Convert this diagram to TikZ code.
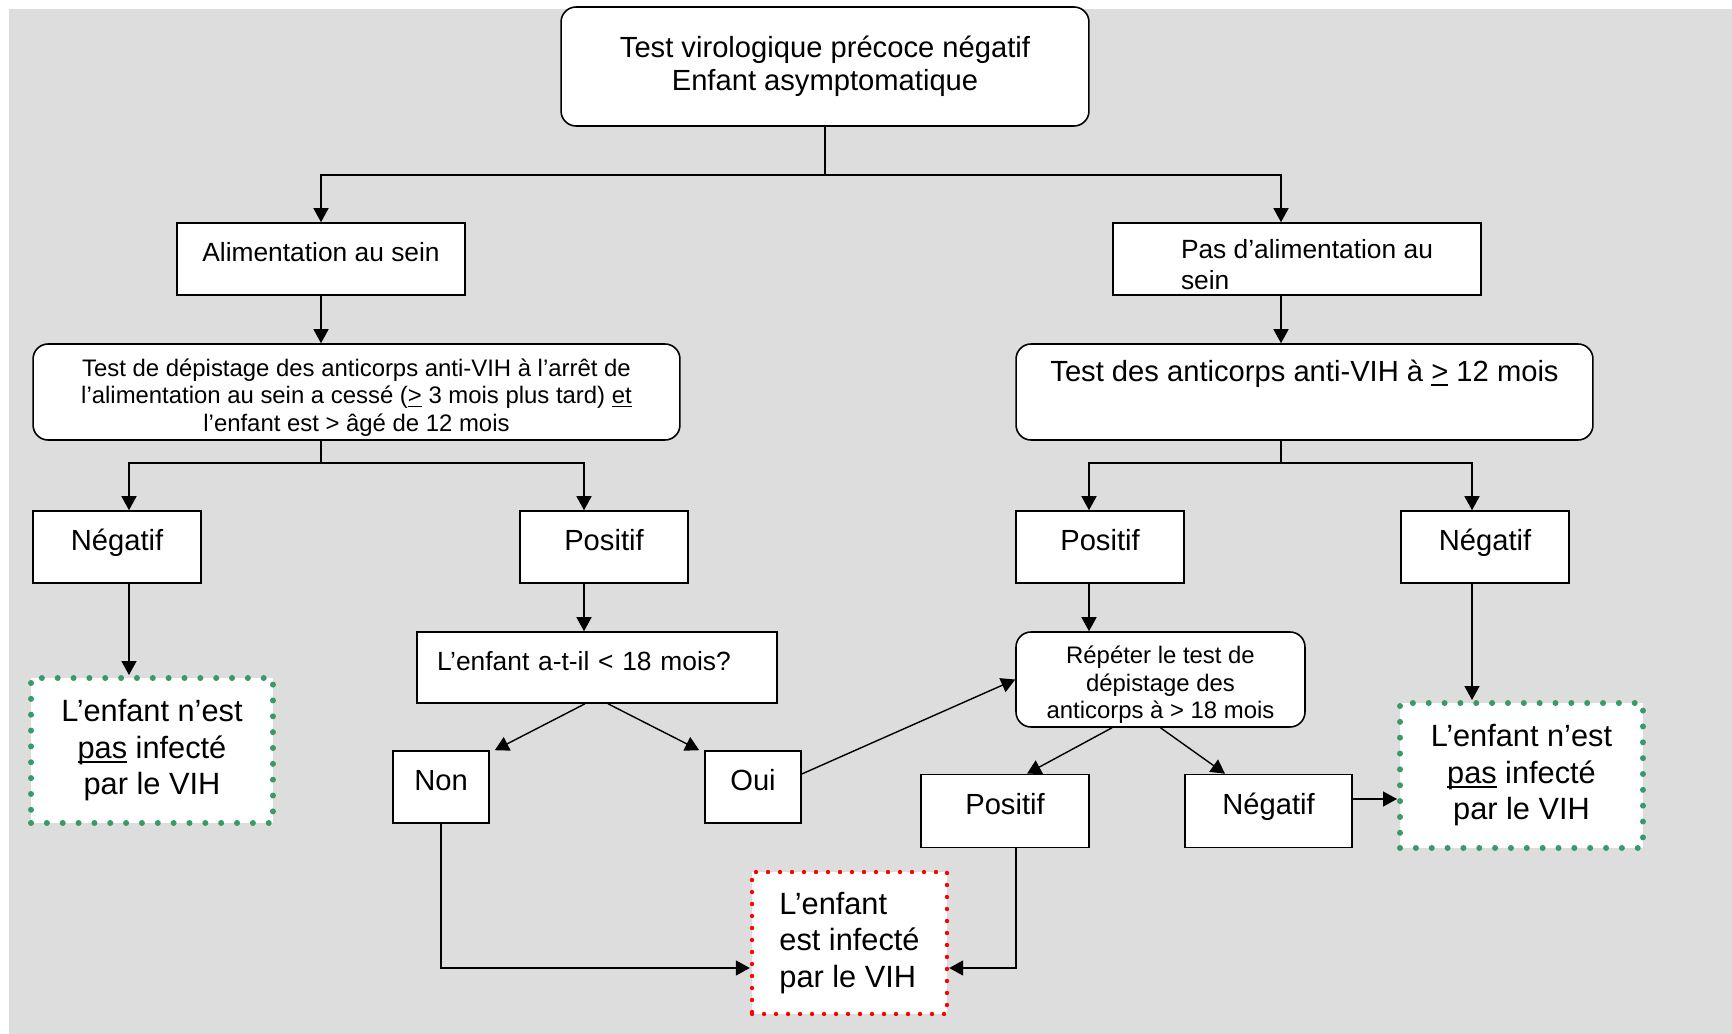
\documentclass[tikz,border=0pt]{standalone}
\usepackage{fontspec}
\setmainfont{Liberation Sans}
\usepackage{xcolor}
\usetikzlibrary{arrows.meta}

\definecolor{fondgris}{RGB}{221,221,221}
\definecolor{vertok}{RGB}{56,154,104}
\newcommand{\tailleA}{\fontsize{16.6}{19}\selectfont}
\newcommand{\tailleB}{\fontsize{15}{17.5}\selectfont}
\newcommand{\tailleC}{\fontsize{13.6}{15.7}\selectfont}
\newcommand{\tailleD}{\fontsize{17.5}{20.8}\selectfont}
% soulignement proche de la ligne de base
\newcommand{\souligne}[1]{\begingroup\setbox0\hbox{#1}\rlap{\rule[-0.15em]{\wd0}{0.06em}}\box0\endgroup}

\tikzset{
  boite/.style={draw, fill=white, line width=0.9pt, inner sep=0pt},
  boiteronde/.style={boite, rounded corners=0.3cm},
  etiquette/.style={boite, font=\tailleA, text height=12pt, text depth=8pt},
  nonInfecte/.style={fill=white, draw=vertok, line width=0.12cm, line cap=round,
    dash pattern=on 0pt off 0.317cm, font=\tailleD, align=center},
  infecte/.style={fill=white, draw=red, line width=0.087cm, line cap=round,
    dash pattern=on 0pt off 0.24cm, font=\tailleD, align=left},
  fleche/.style={line width=0.8pt, -{Triangle[length=0.28cm,width=0.3cm]}},
  trait/.style={line width=0.8pt}
}

\begin{document}
\begin{tikzpicture}[x=0.02cm, y=-0.02cm]
\useasboundingbox (0,0) rectangle (1732,1034);
\fill[fondgris] (9,9) rectangle (1732,1034);

% boites du haut
\node[boiteronde, minimum width=10.56cm, minimum height=2.38cm, font=\tailleA, align=center] (depart) at (825,66.5)
  {Test virologique précoce négatif\\Enfant asymptomatique};
\node[boite, minimum width=5.76cm, minimum height=1.44cm, font=\tailleB, text height=11pt, text depth=8pt] (allait) at (321,259)
  {Alimentation au sein};
\node[boite, minimum width=7.36cm, minimum height=1.44cm,
  label={[font=\tailleB, align=left, xshift=0.2cm, yshift=-0.11cm]center:Pas d’alimentation au\\sein}] (pasallait) at (1297,259) {};

% tests anticorps
\node[boiteronde, minimum width=12.94cm, minimum height=1.92cm,
  label={[font=\tailleC, align=center, yshift=-0.11cm]center:Test de dépistage des anticorps anti-VIH à l’arrêt de\\
   l’alimentation au sein a cessé (\souligne{>} 3 mois plus tard) \souligne{et}\\
   l’enfant est > âgé de 12 mois}] (testG) at (356.5,392) {};
\node[boiteronde, minimum width=11.54cm, minimum height=1.92cm, font=\tailleA, text height=12pt, text depth=24pt] (testD) at (1304.5,392)
  {Test des anticorps anti-VIH à \souligne{>} 12 mois};

% resultats
\node[etiquette, minimum width=3.36cm, minimum height=1.44cm] (negG) at (117,547) {Négatif};
\node[etiquette, minimum width=3.36cm, minimum height=1.44cm] (posG) at (604,547) {Positif};
\node[etiquette, minimum width=3.36cm, minimum height=1.44cm] (posD) at (1100,547) {Positif};
\node[etiquette, minimum width=3.36cm, minimum height=1.44cm] (negD) at (1485,547) {Négatif};

\node[boite, minimum width=7.2cm, minimum height=1.42cm, font=\tailleB, text width=6.4cm, align=left,
  text height=11pt, text depth=8pt] (age) at (597,667.5) {L’enfant a-t-il < 18 mois?};
\node[etiquette, minimum width=1.92cm, minimum height=1.44cm] (non) at (441,787) {Non};
\node[etiquette, minimum width=1.92cm, minimum height=1.44cm] (oui) at (753,787) {Oui};

\node[boiteronde, minimum width=5.78cm, minimum height=1.9cm,
  label={[font=\tailleC, align=center, yshift=-0.11cm]center:Répéter le test de\\dépistage des\\anticorps à > 18 mois}] (repete) at (1160.5,679.5) {};
\node[etiquette, minimum width=3.36cm, minimum height=1.46cm] (pos2) at (1005,811) {Positif};
\node[etiquette, minimum width=3.34cm, minimum height=1.46cm] (neg2) at (1268.5,811) {Négatif};

% conclusions
\node[nonInfecte, minimum width=4.84cm, minimum height=2.9cm] (okG) at (152,750.5)
  {L’enfant n’est\\\souligne{pas} infecté\\par le VIH};
\node[nonInfecte, minimum width=4.86cm, minimum height=2.9cm] (okD) at (1521.5,775.5)
  {L’enfant n’est\\\souligne{pas} infecté\\par le VIH};
\node[infecte, minimum width=3.9cm, minimum height=2.84cm] (vih) at (849.5,943)
  {L’enfant\\est infecté\\par le VIH};

% liaisons
\coordinate (partage) at (825,175);
\draw[trait] (depart) -- (partage);
\draw[fleche] (partage) -| (allait);
\draw[fleche] (partage) -| ([xshift=-0.32cm]pasallait.north);
\draw[fleche] (allait) -- (testG.north -| allait);
\draw[fleche] ([xshift=-0.32cm]pasallait.south) -- ([xshift=-0.32cm]pasallait.south |- testD.north);

\coordinate (fourcheG) at (321,463);
\coordinate (fourcheD) at (1281,463);
\draw[trait] (fourcheG |- testG.south) -- (fourcheG);
\draw[trait] (fourcheD |- testD.south) -- (fourcheD);
\draw[fleche] (fourcheG) -| ([xshift=0.24cm]negG.north);
\draw[fleche] (fourcheG) -| ([xshift=-0.4cm]posG.north);
\draw[fleche] (fourcheD) -| ([xshift=-0.22cm]posD.north);
\draw[fleche] (fourcheD) -| ([xshift=-0.26cm]negD.north);

\draw[fleche] ([xshift=0.24cm]negG.south) -- ([xshift=0.24cm]negG.south |- okG.north);
\draw[fleche] ([xshift=-0.4cm]posG.south) -- ([xshift=-0.4cm]posG.south |- age.north);
\draw[fleche] ([xshift=-0.22cm]posD.south) -- ([xshift=-0.22cm]posD.south |- repete.north);
\draw[fleche] ([xshift=-0.26cm]negD.south) -- ([xshift=-0.26cm]negD.south |- okD.north);

\draw[fleche] ([xshift=-0.24cm]age.south) -- ([xshift=0.1cm]non.north east);
\draw[fleche] ([xshift=0.22cm]age.south) -- ([xshift=-0.1cm]oui.north west);
\draw[fleche] ([yshift=0.26cm]oui.east) -- (repete.west);
\draw[fleche] ([xshift=-0.97cm]repete.south) -- ([xshift=0.44cm]pos2.north);
\draw[fleche] (repete.south) -- ([xshift=-0.87cm]neg2.north);
\draw[fleche] ([yshift=0.24cm]neg2.east) -- ([yshift=0.24cm]neg2.east -| okD.west);

\draw[fleche] (non.south) |- ([yshift=-0.5cm]vih.west);
\draw[fleche] ([xshift=0.22cm]pos2.south) |- ([yshift=-0.5cm]vih.east);
\end{tikzpicture}
\end{document}
